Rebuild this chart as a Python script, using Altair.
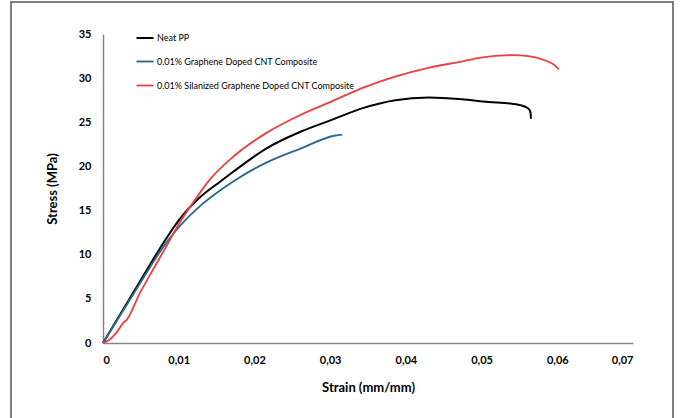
import altair as alt
import pandas as pd

series_names = ["Neat PP", "0.01% Graphene Doped CNT Composite",
                "0.01% Silanized Graphene Doped CNT Composite"]
colors = ["#000000", "#2b6a8c", "#f03c3c"]
widths = [2.0, 1.8, 1.3]

neat_strain = [0, 0.0042, 0.0084, 0.0101, 0.0128, 0.0155, 0.0172, 0.0215, 0.026, 0.0303,
               0.0343, 0.0386, 0.043, 0.0474, 0.0509, 0.054, 0.0553, 0.0561, 0.0564, 0.05648, 0.05652]
neat_stress = [0, 6.0, 11.9, 14.0, 16.5, 18.3, 19.4, 22.0, 23.9, 25.3,
               26.6, 27.5, 27.8, 27.6, 27.3, 27.1, 26.9, 26.6, 26.3, 26.0, 25.4]

blue_strain = [0, 0.0042, 0.0084, 0.0101, 0.0128, 0.0155, 0.0172, 0.0215, 0.026, 0.0307, 0.0316]
blue_stress = [0, 5.8, 11.4, 13.2, 15.5, 17.3, 18.3, 20.4, 22.0, 23.5, 23.6]

red_strain = [0, 0.0009, 0.0018, 0.0027, 0.0031, 0.0049, 0.0066, 0.0084, 0.0101, 0.0119,
              0.0141, 0.0172, 0.0216, 0.026, 0.0303, 0.0343, 0.0387, 0.0431, 0.0475, 0.0497,
              0.054, 0.0562, 0.0584, 0.0596, 0.0602]
red_stress = [0, 0.4, 1.2, 2.3, 2.6, 5.7, 8.3, 11.0, 13.6, 15.9,
              18.5, 21.1, 23.8, 25.8, 27.4, 28.9, 30.2, 31.2, 31.9, 32.3,
              32.6, 32.5, 32.0, 31.5, 31.0]

rows = []
for name, xs, ys in zip(series_names,
                        [neat_strain, blue_strain, red_strain],
                        [neat_stress, blue_stress, red_stress]):
    for i, (x, y) in enumerate(zip(xs, ys)):
        rows.append({"series": name, "strain": x, "stress": y, "order": i})
df = pd.DataFrame(rows)

FONT = "Lato"

lines = alt.Chart(df).mark_line(interpolate="monotone").encode(
    x=alt.X("strain:Q",
            scale=alt.Scale(domain=[0, 0.07], nice=False),
            axis=alt.Axis(title="Strain (mm/mm)", values=[0, 0.01, 0.02, 0.03, 0.04, 0.05, 0.06, 0.07],
                          labelExpr="datum.value == 0 ? '0' : replace(format(datum.value, '.2f'), '.', ',')",
                          grid=False, ticks=False, domainColor="#868686", domainWidth=1.5,
                          labelFont=FONT, labelFontWeight="bold", labelFontSize=11, labelPadding=11,
                          labelColor="#000000",
                          titleFont=FONT, titleFontWeight="bold", titleFontSize=13, titlePadding=16,
                          titleColor="#000000")),
    y=alt.Y("stress:Q",
            scale=alt.Scale(domain=[0, 35], nice=False),
            axis=alt.Axis(title="Stress (MPa)", values=[0, 5, 10, 15, 20, 25, 30, 35],
                          grid=False, ticks=False, domainColor="#868686", domainWidth=1.5,
                          labelFont=FONT, labelFontWeight="bold", labelFontSize=11, labelPadding=12,
                          labelColor="#000000",
                          titleFont=FONT, titleFontWeight="bold", titleFontSize=13, titlePadding=19,
                          titleColor="#000000")),
    color=alt.Color("series:N",
                    scale=alt.Scale(domain=series_names, range=colors),
                    legend=alt.Legend(title=None, orient="none", legendX=32, legendY=-6,
                                      symbolType="stroke", symbolSize=290, symbolStrokeWidth=2,
                                      labelFont=FONT, labelFontSize=9, labelColor="#000000",
                                      labelLimit=0, rowPadding=9, labelOffset=2)),
    strokeWidth=alt.StrokeWidth("series:N",
                                scale=alt.Scale(domain=series_names, range=widths),
                                legend=None),
    order="order:Q",
)

border = alt.Chart(pd.DataFrame({"a": [0]})).mark_rect(
    fill=None, stroke="#7f7f7f", strokeWidth=2, clip=False
).encode(x=alt.value(-92), x2=alt.value(570), y=alt.value(-32), y2=alt.value(390))

chart = alt.layer(border, lines).properties(
    width=530, height=309,
    autosize=alt.AutoSizeParams(type="none"),
    padding={"left": 103, "top": 34, "right": 47, "bottom": 75},
    background="white",
).configure_view(stroke=None)

chart.save("out.html", embed_options={"renderer": "svg", "actions": False})
